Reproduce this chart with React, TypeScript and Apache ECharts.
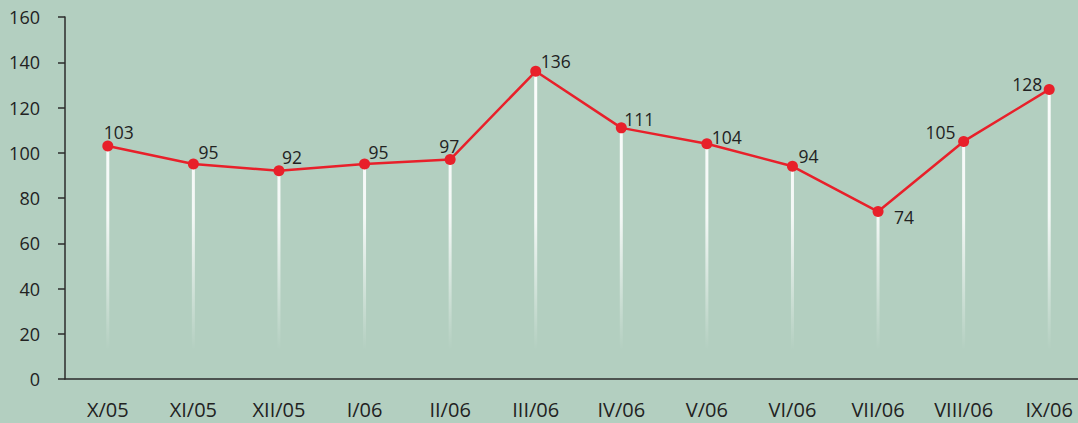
import React, { useEffect, useRef } from "react";
import * as echarts from "echarts";

const categories = ["X/05", "XI/05", "XII/05", "I/06", "II/06", "III/06", "IV/06", "V/06", "VI/06", "VII/06", "VIII/06", "IX/06"];
const values = [103, 95, 92, 95, 97, 136, 111, 104, 94, 74, 105, 128];
const yTicks = { min: 0, max: 160, interval: 20 };
// label offsets (style only)
const labelOffsets = [[11, -14], [15, -12], [13, -14], [14, -12], [-1, -14], [20, -10], [18, -9], [20, -7], [16, -10], [26, 5], [-23, -9], [-22, -5]];

export default function App() {
  const ref = useRef<HTMLDivElement>(null);
  useEffect(() => {
    const chart = echarts.init(ref.current!, null, { renderer: "svg" });
    const font = "Open Sans";
    chart.setOption({
      animation: false,
      backgroundColor: "#b3cfc0",
      grid: { left: 65, width: 1027, top: 17, bottom: 44, outerBoundsMode: "none", containLabel: false },
      xAxis: {
        type: "category",
        data: categories,
        axisLine: { lineStyle: { color: "#2b2b2b", width: 1.5 } },
        axisTick: { show: false },
        axisLabel: { color: "#222", fontFamily: font, fontSize: 20, margin: 20 },
      },
      yAxis: {
        type: "value",
        min: yTicks.min,
        max: yTicks.max,
        interval: yTicks.interval,
        splitLine: { show: false },
        axisLine: { show: true, lineStyle: { color: "#2b2b2b", width: 1.5 } },
        axisTick: { show: true, length: 7, lineStyle: { color: "#2b2b2b", width: 1.5 } },
        axisLabel: { color: "#222", fontFamily: font, fontSize: 18, margin: 25 },
      },
      series: [
        {
          type: "bar",
          data: values,
          barWidth: 3,
          z: 1,
          itemStyle: {
            color: new echarts.graphic.LinearGradient(0, 17, 0, 350, [
              { offset: 0, color: "rgba(255,255,255,1)" },
              { offset: 0.6, color: "rgba(255,255,255,0.85)" },
              { offset: 1, color: "rgba(255,255,255,0)" },
            ], true),
          },
        },
        {
          type: "line",
          data: values.map((v, i) => ({
            value: v,
            label: { offset: labelOffsets[i] },
          })),
          z: 3,
          symbol: "circle",
          symbolSize: 11,
          lineStyle: { color: "#e8202a", width: 2.5 },
          itemStyle: { color: "#e8202a" },
          label: {
            show: true,
            position: "inside",
            color: "#222",
            fontFamily: font,
            fontSize: 17.5,
          },
        },
      ],
    });
    return () => chart.dispose();
  }, []);
  return <div ref={ref} style={{ position: "absolute", left: 0, top: 0, width: 1078, height: 423 }} />;
}
